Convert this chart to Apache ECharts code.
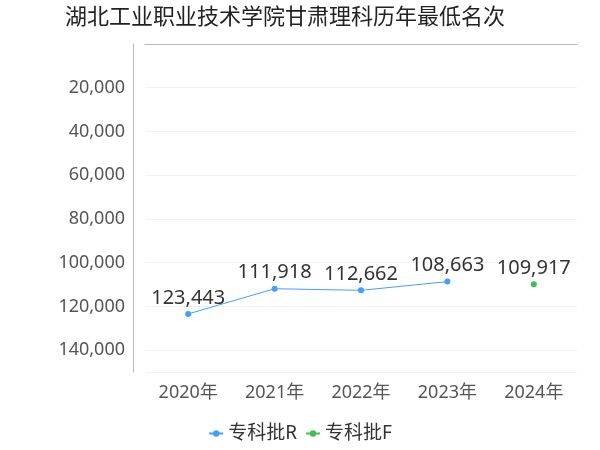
<!DOCTYPE html>
<html><head><meta charset="utf-8">
<script src="https://cdn.jsdelivr.net/npm/echarts@6/dist/echarts.min.js"></script>
<style>body{margin:0}#c{width:600px;height:450px}</style>
</head><body><div id="c"></div>
<script>
// data
var years = ['2020年', '2021年', '2022年', '2023年', '2024年'];
var seriesR = [123443, 111918, 112662, 108663, null];
var seriesF = [null, null, null, null, 109917];

var chart = echarts.init(document.getElementById('c'));
var lbl = {
  show: true, position: 'top', fontSize: 20, color: '#333', distance: 3,
  formatter: function (p) { return p.value.toLocaleString('en-US'); }
};
chart.setOption({
  textStyle: { fontFamily: 'Noto Sans, Noto Sans CJK SC' },
  title: {
    text: '湖北工业职业技术学院甘肃理科历年最低名次',
    left: 60, top: 2,
    textStyle: { fontSize: 22, fontWeight: 'normal', color: '#222' }
  },
  legend: {
    bottom: 2, left: 'center', itemWidth: 14, itemHeight: 8,
    textStyle: { fontSize: 19, color: '#333' },
    data: ['专科批R', '专科批F']
  },
  grid: { left: 145, right: 23, top: 44, bottom: 78 },
  xAxis: {
    type: 'category', data: years, position: 'bottom',
    axisTick: { show: false },
    axisLine: { lineStyle: { color: '#bbb' } },
    axisLabel: { fontSize: 18, color: '#555', margin: 12 }
  },
  yAxis: {
    type: 'value', inverse: true, min: 0, max: 150000, interval: 20000,
    offset: 12,
    axisLine: { show: true, lineStyle: { color: '#bbb' } },
    splitLine: { lineStyle: { color: '#f2f2f2' } },
    axisLabel: {
      fontSize: 18, color: '#555',
      formatter: function (v) { return (v === 0 || v === 150000) ? '' : v.toLocaleString('en-US'); }
    }
  },
  series: [
    { name: '专科批R', type: 'line', data: seriesR, color: '#3fa0ff',
      symbol: 'circle', symbolSize: 6, lineStyle: { width: 1 }, label: lbl },
    { name: '专科批F', type: 'line', data: seriesF, color: '#3fbf4f',
      symbol: 'circle', symbolSize: 6, label: lbl }
  ]
});
</script></body></html>
